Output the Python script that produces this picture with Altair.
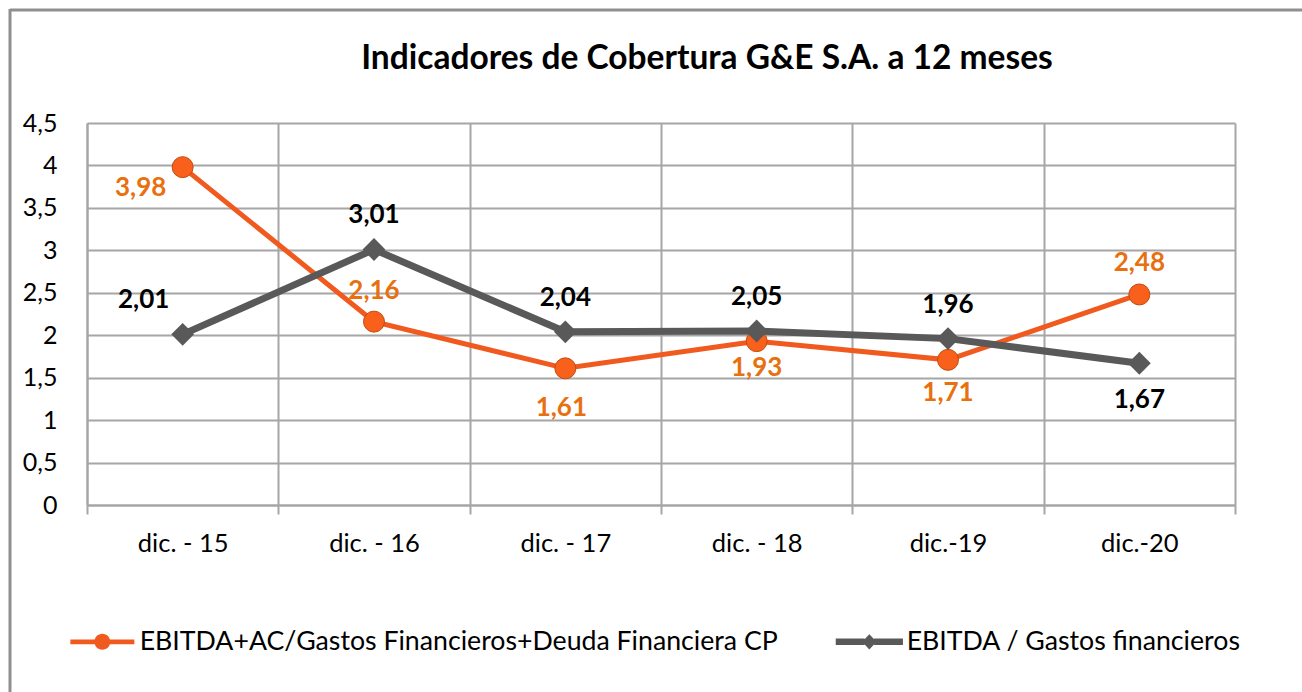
import altair as alt
import pandas as pd

categories = ["dic. - 15", "dic. - 16", "dic. - 17", "dic. - 18", "dic.-19", "dic.-20"]
series_names = ["EBITDA+AC/Gastos Financieros+Deuda Financiera CP", "EBITDA / Gastos financieros"]
cobertura_total = [3.98, 2.16, 1.61, 1.93, 1.71, 2.48]
ebitda_gastos = [2.01, 3.01, 2.04, 2.05, 1.96, 1.67]
y_ticks = [0, 0.5, 1, 1.5, 2, 2.5, 3, 3.5, 4, 4.5]
title_text = "Indicadores de Cobertura G&E S.A. a 12 meses"

ORANGE = "#F15A1E"
ORANGE_TXT = "#E8700E"
GRAY = "#595959"
FONT = "Lato"

rows = []
for i, c in enumerate(categories):
    rows.append({"cat": c, "series": series_names[0], "value": cobertura_total[i]})
    rows.append({"cat": c, "series": series_names[1], "value": ebitda_gastos[i]})
df = pd.DataFrame(rows)

xenc = alt.X("cat:N", sort=categories,
             scale=alt.Scale(type="band", paddingInner=0, paddingOuter=0),
             axis=alt.Axis(title=None, labelAngle=0, tickBand="extent", grid=True,
                           labelFontSize=25.5, labelFont=FONT, labelColor="#000000",
                           labelPadding=17, tickSize=9, tickColor="#a6a6a6", tickWidth=2,
                           domainColor="#a6a6a6", domainWidth=2,
                           gridColor="#a6a6a6", gridWidth=2))
yenc = alt.Y("value:Q", scale=alt.Scale(domain=[0, 4.5], nice=False),
             axis=alt.Axis(title=None, values=y_ticks, ticks=False,
                           labelExpr="replace(format(datum.value, '~g'), '.', ',')",
                           labelFontSize=25, labelFont=FONT, labelColor="#000000",
                           labelPadding=30, domainColor="#a6a6a6", domainWidth=2,
                           gridColor="#a6a6a6", gridWidth=2))

base = alt.Chart(df).transform_calculate(
    lbl="replace(format(datum.value, '.2f'), '.', ',')"
)

s0 = base.transform_filter(alt.datum.series == series_names[0])
s1 = base.transform_filter(alt.datum.series == series_names[1])

line0 = s0.mark_line(color=ORANGE, strokeWidth=5).encode(x=xenc, y=yenc)
pts0 = s0.mark_point(shape="circle", filled=True, size=440, fill="#F8601C",
                     stroke="#C24B0C", strokeWidth=1, opacity=1).encode(x=xenc, y=yenc)
line1 = s1.mark_line(color=GRAY, strokeWidth=7).encode(x=xenc, y=yenc)
pts1 = s1.mark_point(shape="diamond", filled=True, size=520, color=GRAY,
                     opacity=1).encode(x=xenc, y=yenc)


def labels(src, cats, color, dx, dy):
    return src.transform_filter(
        alt.FieldOneOfPredicate(field="cat", oneOf=cats)
    ).mark_text(font=FONT, fontSize=26, fontWeight="bold", color=color,
                dx=dx, dy=dy).encode(x=xenc, y=yenc, text="lbl:N")


lab = [
    labels(s0, [categories[0]], ORANGE_TXT, -42, 21),
    labels(s0, [categories[1], categories[5]], ORANGE_TXT, 0, -31),
    labels(s0, [categories[2]], ORANGE_TXT, -4, 40),
    labels(s0, [categories[3]], ORANGE_TXT, 0, 27),
    labels(s0, [categories[4]], ORANGE_TXT, 0, 33),
    labels(s1, [categories[0]], "#000000", -39, -34),
    labels(s1, categories[1:5], "#000000", 0, -34),
    labels(s1, [categories[5]], "#000000", 0, 37),
]

# legend symbols: line segment with marker in the middle
circle_bar = ("M-4,-0.3 L-0.95,-0.3 L-0.95,0.3 L-4,0.3 Z "
              "M0.95,-0.3 L4,-0.3 L4,0.3 L0.95,0.3 Z "
              "M-1,0 A1,1 0 1,1 1,0 A1,1 0 1,1 -1,0 Z")
diamond_bar = ("M-4.2,-0.4 L-0.6,-0.4 L-0.6,0.4 L-4.2,0.4 Z "
               "M0.6,-0.4 L4.2,-0.4 L4.2,0.4 L0.6,0.4 Z "
               "M0,-0.95 L0.9,0 L0,0.95 L-0.9,0 Z")

leg = alt.Legend(title=None, orient="none", direction="horizontal", columns=2,
                 legendX=2, legendY=505, symbolSize=256, symbolStrokeWidth=0,
                 labelFont=FONT, labelFontSize=26.7, labelColor="#000000",
                 labelOffset=24, columnPadding=57, labelLimit=0)
legend_layer = base.mark_point(filled=True, clip=True, opacity=1).encode(
    x=xenc,
    y=alt.value(-300),
    shape=alt.Shape("series:N", scale=alt.Scale(domain=series_names, range=[circle_bar, diamond_bar]), legend=leg),
    color=alt.Color("series:N", scale=alt.Scale(domain=series_names, range=[ORANGE, GRAY]), legend=leg),
)

# outer chart frame (top and left edges visible in the reference)
frame_df = pd.DataFrame({"k": [0]})
frame_top = alt.Chart(frame_df).mark_rule(color="#8f8f8f", strokeWidth=3).encode(
    x=alt.value(-77), x2=alt.value(1215), y=alt.value(-113))
frame_left = alt.Chart(frame_df).mark_rule(color="#8f8f8f", strokeWidth=3).encode(
    x=alt.value(-77), y=alt.value(-114), y2=alt.value(569))

chart = alt.layer(line0, pts0, line1, pts1, *lab, legend_layer, frame_top, frame_left).properties(
    width=1148, height=382,
    title=alt.TitleParams(title_text, font=FONT, fontSize=33.5, fontWeight="bold",
                          color="#000000", anchor="middle", dx=46, offset=-69),
    autosize=alt.AutoSizeParams(type="none"),
    padding={"left": 87, "top": 123, "right": 67, "bottom": 187},
    background="white",
).configure_view(stroke=None)

chart.save("out.html", embed_options={"renderer": "svg", "actions": False})
